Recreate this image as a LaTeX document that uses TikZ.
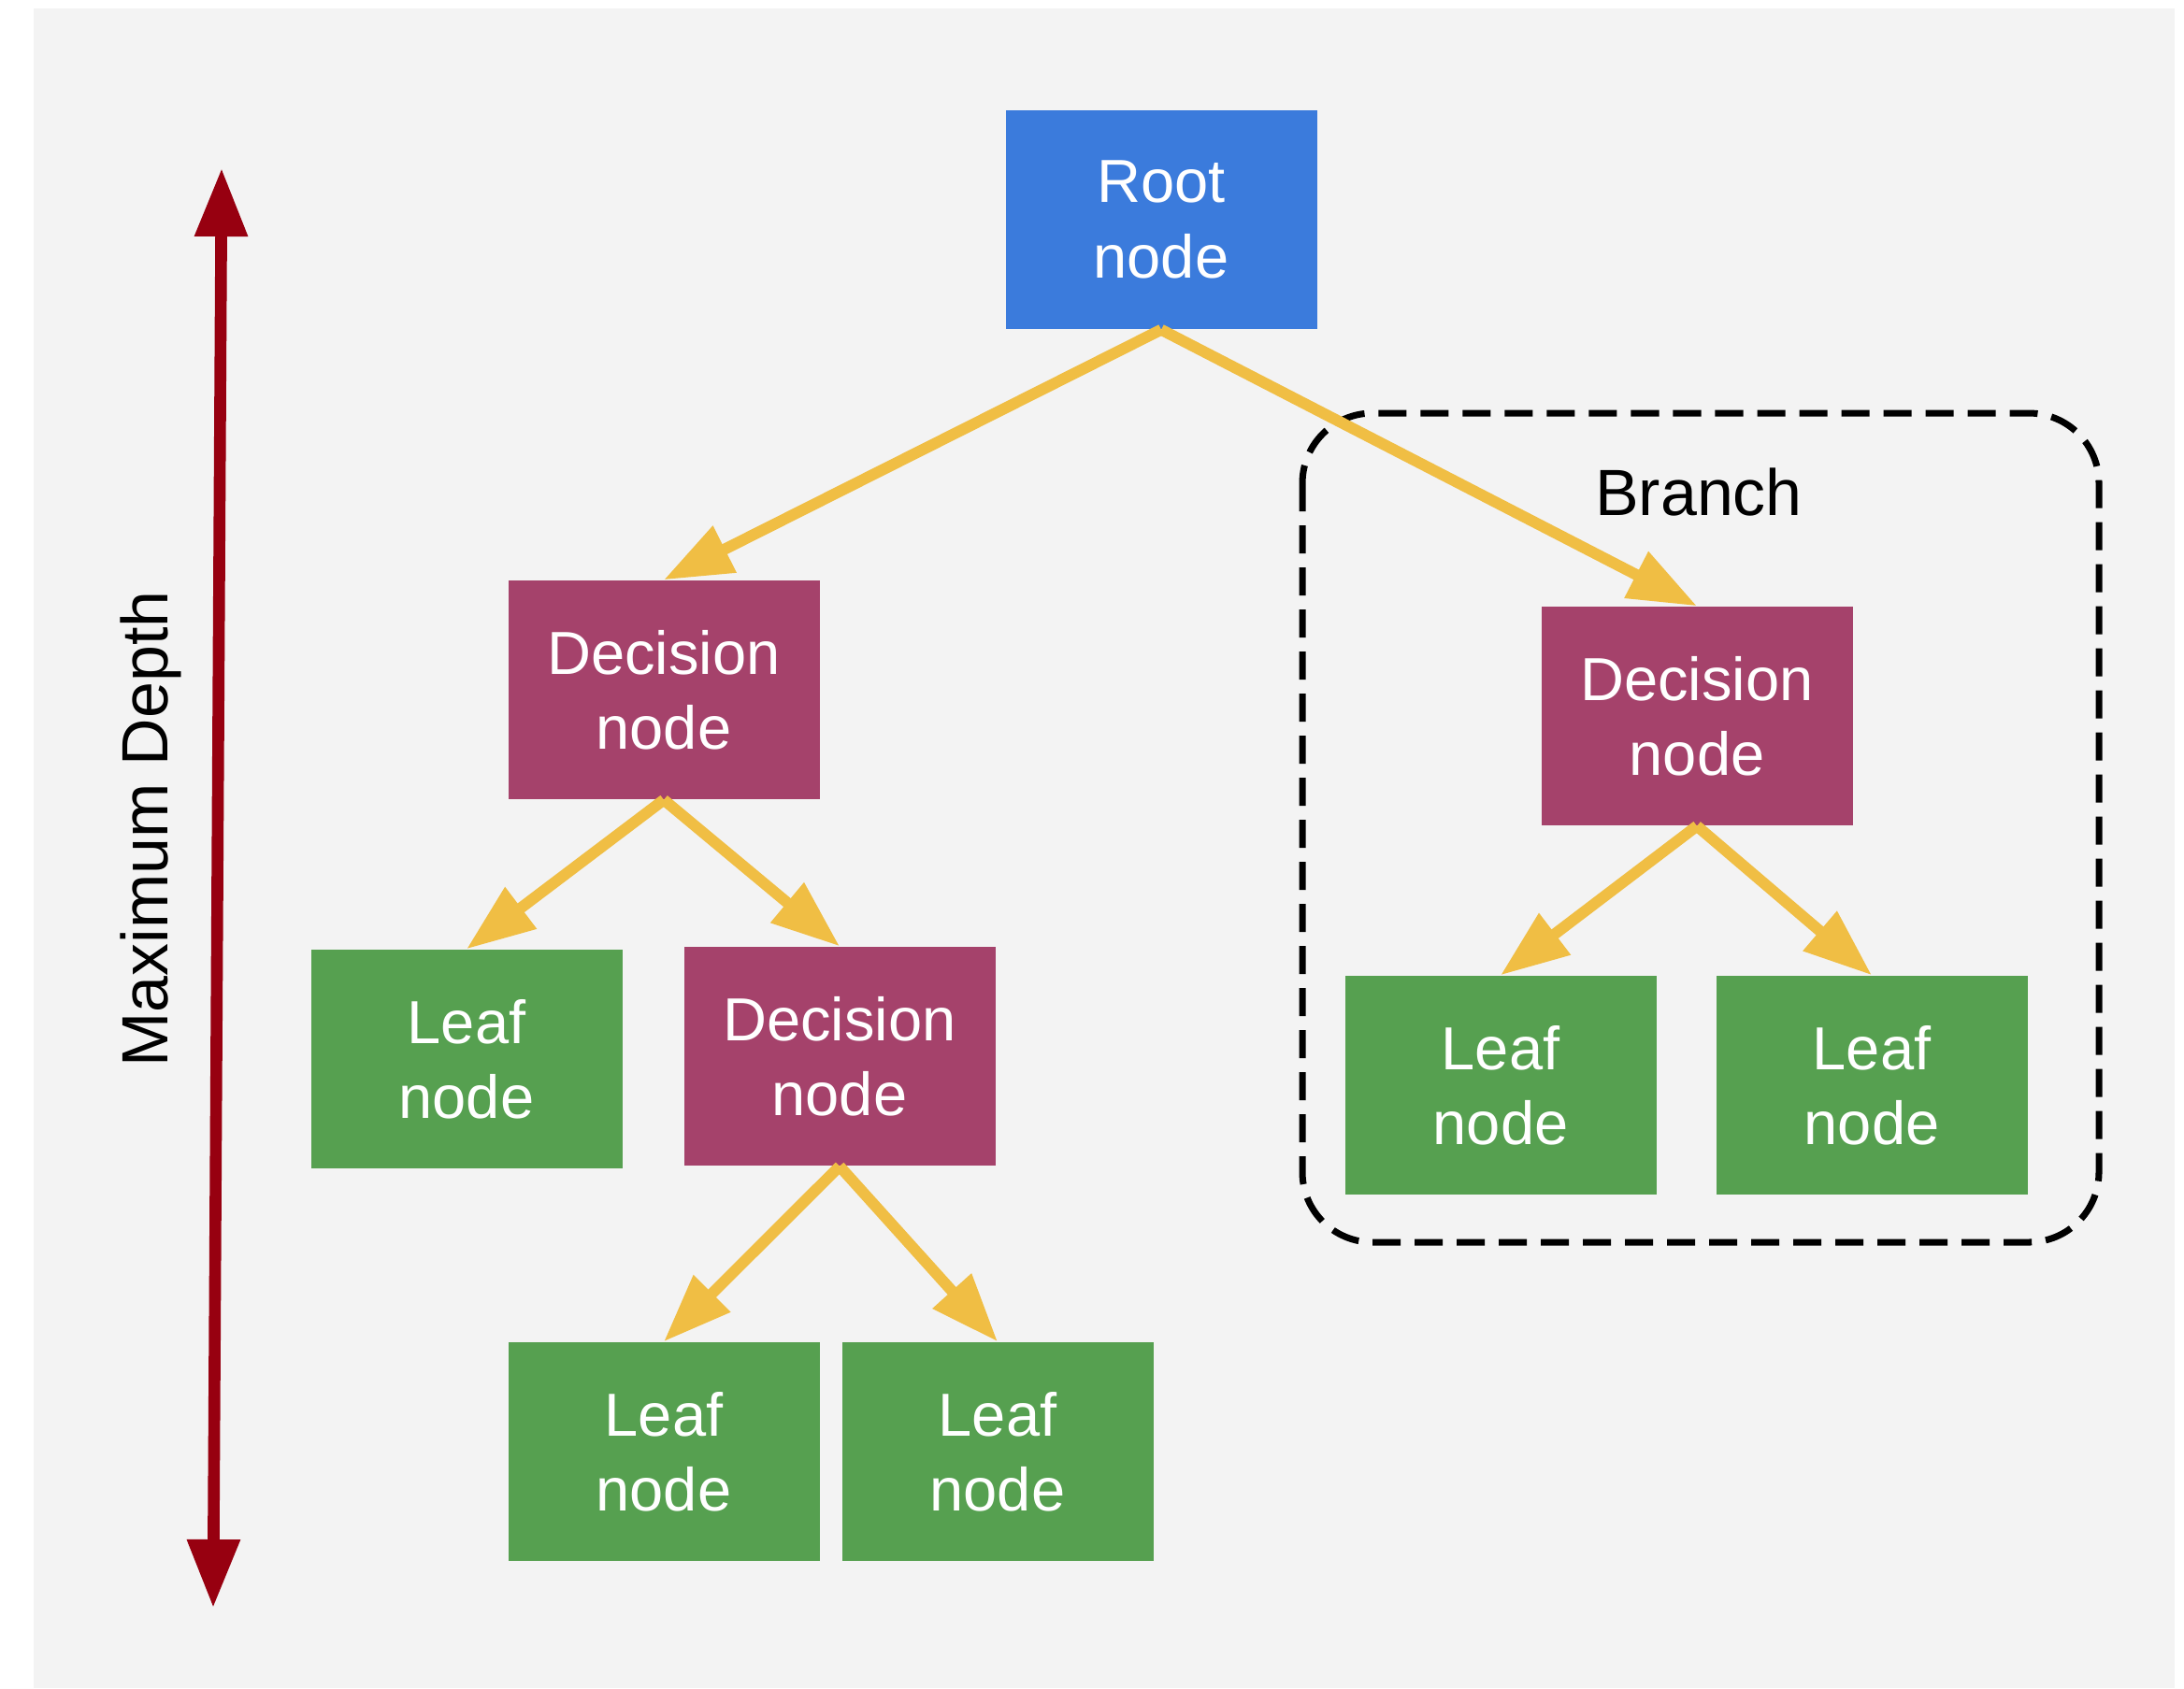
\documentclass[tikz,border=0pt]{standalone}
\usepackage{fontspec}
\setmainfont{Liberation Sans}
\usetikzlibrary{arrows.meta,positioning}
\definecolor{rootblue}{HTML}{3B7BDC}
\definecolor{decpurple}{HTML}{A5426B}
\definecolor{leafgreen}{HTML}{56A050}
\definecolor{linkyellow}{HTML}{F0BE44}
\definecolor{depthred}{HTML}{970010}
\definecolor{paper}{HTML}{F3F3F3}
\begin{document}
\begin{tikzpicture}[box/.style={minimum width=3.33cm,minimum height=2.34cm,inner sep=0pt,align=center,text=white,font=\fontsize{18.5}{22.8}\selectfont},
  link/.style={-{Triangle[length=7.3mm,width=5.3mm]},draw=linkyellow,line width=3.4pt}]
\useasboundingbox (0,0) rectangle (23.36,-18.06);
\fill[paper] (0.36,-0.09) rectangle (23.26,-18.06);
\draw[dash pattern=on 0.3cm off 0.15cm,line width=2pt,rounded corners=0.75cm] (13.93,-4.42) rectangle (22.45,-13.29);
\node[font=\fontsize{19.9}{24}\selectfont] (branch) at (18.17,-5.26) {Branch};
\node[box,fill=rootblue] (root) at (12.42,-2.35) {Root\\node};
\node[box,fill=decpurple] (decL) at (7.10,-7.38) {Decision\\node};
\node[box,fill=decpurple] (decR) at (18.15,-7.66) {Decision\\node};
\node[box,fill=leafgreen] (leafA) at (4.99,-11.33) {Leaf\\node};
\node[box,fill=decpurple] (decM) at (8.98,-11.30) {Decision\\node};
\node[box,fill=leafgreen] (leafB) at (7.10,-15.53) {Leaf\\node};
\node[box,fill=leafgreen] (leafC) at (10.67,-15.53) {Leaf\\node};
\node[box,fill=leafgreen] (leafD) at (16.05,-11.61) {Leaf\\node};
\node[box,fill=leafgreen] (leafE) at (20.02,-11.61) {Leaf\\node};
\draw[link] (root.south)--(decL.north);
\draw[link] (root.south)--(decR.north);
\draw[link] (decL.south)--(leafA.north);
\draw[link] (decL.south)--(decM.north);
\draw[link] (decM.south)--(leafB.north);
\draw[link] (decM.south)--(leafC.north);
\draw[link] (decR.south)--(leafD.north);
\draw[link] (decR.south)--(leafE.north);
% depth marker
\coordinate (dtop) at (2.37,-1.80);
\coordinate (dbot) at (2.28,-17.20);
\draw[{Triangle[length=7.3mm,width=5.4mm]}-{Triangle[length=7.3mm,width=5.4mm]},depthred,line width=3.6pt] (dtop)--(dbot);
\node[rotate=90,font=\fontsize{19.9}{24}\selectfont] (depth) at (1.61,-8.87) {Maximum Depth};
\end{tikzpicture}
\end{document}
